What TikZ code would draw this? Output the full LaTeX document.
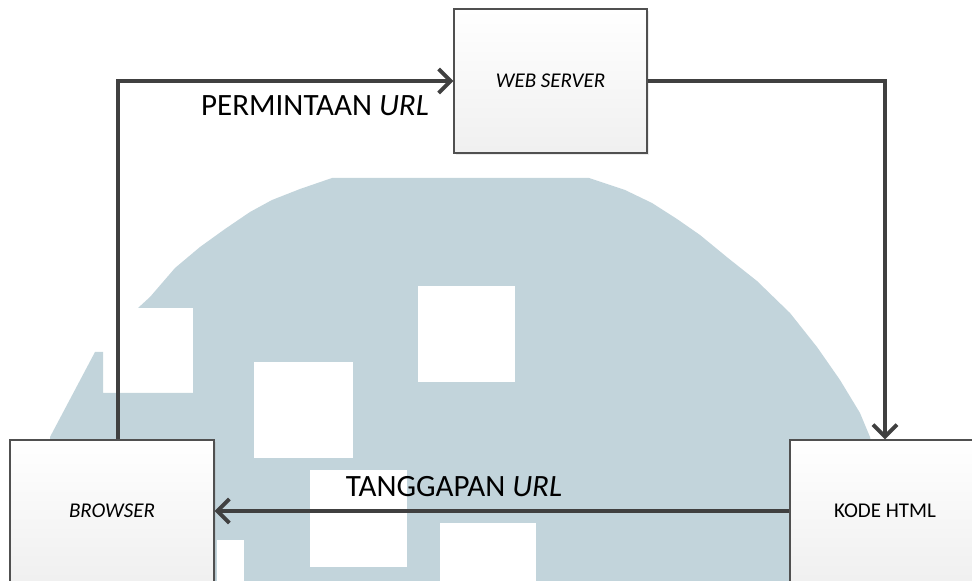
\documentclass[tikz,border=0pt]{standalone}
\usepackage{fontspec}
\setmainfont{Carlito}
\usetikzlibrary{positioning,arrows.meta,shadows}
\definecolor{uMark}{HTML}{C2D4DB}
\definecolor{uLine}{HTML}{404040}
\definecolor{uEdge}{HTML}{505050}
\tikzset{
  blk/.style={draw=uEdge, line width=0.7pt, top color=white, bottom color=black!6,
              align=center, font=\fontsize{10.5}{12}\selectfont, inner sep=2pt,
              drop shadow={shadow xshift=1pt, shadow yshift=-1pt, opacity=0.15}},
  server/.style={blk, minimum width=96.5pt, minimum height=72pt},
  client/.style={blk, minimum width=102pt, minimum height=71pt},
  page/.style={blk, minimum width=95pt, minimum height=71pt},
  flow/.style={-{Straight Barb[length=6pt, width=12pt]}, draw=uLine, line width=1.9pt},
  lbl/.style={font=\fontsize{15.5}{18}\selectfont, inner sep=1pt},
}

\begin{document}
\begin{tikzpicture}[x=0.5pt, y=-0.5pt]

\useasboundingbox (0,0) rectangle (972,581);
\clip (0,0) rectangle (972,581);

%% ── watermark behind the diagram ─────────────────────────────────────────
\fill[uMark] (50,600) -- (50,437) -- (95,352) -- (103,352) -- (103,393)
  -- (193,393) -- (193,308) -- (138,308) -- (150,297) -- (175,268)
  -- (200,247) -- (225,229) -- (250,212) -- (272,200) -- (300,189)
  -- (332,178) -- (589,178) -- (625,190) -- (652,203) -- (677,219)
  -- (700,235) -- (728,258) -- (757,281) -- (790,313) -- (817,347)
  -- (840,380) -- (860,413) -- (870,437) -- (885,500) -- (890,600) -- cycle;
\fill[white] (418,286) rectangle (515,382);
\fill[white] (254,362) rectangle (353,458);
\fill[white] (310,470) rectangle (407,567);
\fill[white] (440,523) rectangle (536,600);
\fill[white] (217,540) rectangle (244,600);

%% ── the three boxes ──────────────────────────────────────────────────────
\node[server] (web)     at (550.5,81) {\textit{WEB SERVER}};
\node[client] (browser) at (112,511)  {\textit{BROWSER}};
\node[page]   (kode)    at (885,511)  {KODE HTML};

%% ── request up and over, response back along the bottom ─────────────────
\draw[flow] ([xshift=3pt]browser.north) |- (web.west);
\draw[flow] (web.east) -| (kode.north);
\draw[flow] (kode.west) -- (browser.east);

\node[lbl] (minta)  at (315,106) {PERMINTAAN \textit{URL}};
\node[lbl] (tanggap) at (454,487) {TANGGAPAN \textit{URL}};

\end{tikzpicture}
\end{document}
